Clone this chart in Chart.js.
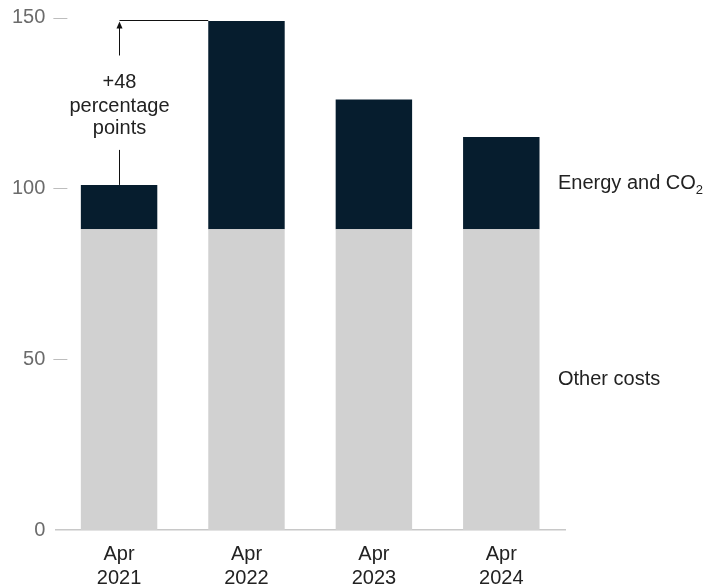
<!DOCTYPE html>
<html>
<head>
<meta charset="utf-8">
<script src="https://cdn.jsdelivr.net/npm/chart.js@4/dist/chart.umd.min.js"></script>
<style>
  html, body { margin: 0; padding: 0; background: #fff; }
  #wrap { width: 708px; height: 587px; }
</style>
</head>
<body>
<div id="wrap"><canvas id="chart"></canvas></div>
<script>
// 數據
const categories = [['Apr', '2021'], ['Apr', '2022'], ['Apr', '2023'], ['Apr', '2024']];
const otherCosts = [88, 88, 88, 88];
const energyCO2 = [13, 61, 38, 27];
const yTicks = [0, 50, 100, 150];
const seriesNames = ['Other costs', 'Energy and CO'];
const noteLines = ['+48', 'percentage', 'points'];

const NAVY = '#061d2e';
const GREY = '#d1d1d1';
const FONT = '"Liberation Sans", Arial, sans-serif';

// y 軸短刻度線
const tickMarks = {
    id: 'tickMarks',
    afterDraw(chart) {
        const ctx = chart.ctx;
        const y = chart.scales.y;
        const left = chart.chartArea.left;
        ctx.save();
        ctx.strokeStyle = '#bdbdbd';
        ctx.lineWidth = 1;
        yTicks.forEach(v => {
            if (v === 0) return;
            const py = Math.round(y.getPixelForValue(v)) + 0.5;
            ctx.beginPath();
            ctx.moveTo(left - 2, py);
            ctx.lineTo(left + 12, py);
            ctx.stroke();
        });
        ctx.restore();
    }
};

// 右側系列標籤
const seriesLabels = {
    id: 'seriesLabels',
    afterDraw(chart) {
        const ctx = chart.ctx;
        const x = chart.chartArea.right - 7;
        ctx.save();
        ctx.fillStyle = '#222';
        ctx.textBaseline = 'middle';
        ctx.textAlign = 'left';
        chart.data.datasets.forEach((ds, i) => {
            const bar = chart.getDatasetMeta(i).data[ds.data.length - 1];
            const mid = (bar.y + bar.base) / 2;
            ctx.font = '20px ' + FONT;
            ctx.fillText(seriesNames[i], x, mid);
            if (i === 1) {
                const w = ctx.measureText(seriesNames[i]).width;
                ctx.font = '13px ' + FONT;
                ctx.fillText('2', x + w, mid + 7);
            }
        });
        ctx.restore();
    }
};

// +48 註解箭頭
const changeNote = {
    id: 'changeNote',
    afterDraw(chart) {
        const ctx = chart.ctx;
        const meta = chart.getDatasetMeta(1);
        const b0 = meta.data[0];
        const b1 = meta.data[1];
        const x = Math.round(b0.x) + 0.5;
        const topY = Math.round(b1.y) - 0.5;
        const right = b1.x - b1.width / 2;
        ctx.save();
        ctx.strokeStyle = '#111';
        ctx.fillStyle = '#111';
        ctx.lineWidth = 1;
        ctx.beginPath();
        ctx.moveTo(right, topY);
        ctx.lineTo(x, topY);
        ctx.moveTo(x, b0.y);
        ctx.lineTo(x, b0.y - 35);
        ctx.moveTo(x, topY + 35);
        ctx.lineTo(x, topY + 6);
        ctx.stroke();
        ctx.beginPath();
        ctx.moveTo(x, topY + 1);
        ctx.lineTo(x - 3, topY + 8);
        ctx.lineTo(x + 3, topY + 8);
        ctx.closePath();
        ctx.fill();
        ctx.font = '20px ' + FONT;
        ctx.textAlign = 'center';
        ctx.textBaseline = 'middle';
        ctx.fillStyle = '#222';
        ctx.fillText(noteLines[0], x, topY + 62);
        ctx.fillText(noteLines[1], x, topY + 86);
        ctx.fillText(noteLines[2], x, topY + 108);
        ctx.restore();
    }
};

new Chart(document.getElementById('chart'), {
    type: 'bar',
    data: {
        labels: categories,
        datasets: [{
            label: seriesNames[0],
            data: otherCosts,
            backgroundColor: GREY,
            barPercentage: 0.6,
            categoryPercentage: 1
        }, {
            label: seriesNames[1],
            data: energyCO2,
            backgroundColor: NAVY,
            barPercentage: 0.6,
            categoryPercentage: 1
        }]
    },
    options: {
        responsive: true,
        maintainAspectRatio: false,
        animation: false,
        layout: { padding: { left: 2, right: 143, top: 0, bottom: -15 } },
        plugins: {
            legend: { display: false },
            tooltip: { enabled: false }
        },
        scales: {
            x: {
                stacked: true,
                grid: { display: false, drawTicks: false },
                border: { display: true, color: '#c8c8c8', width: 1.5 },
                ticks: {
                    color: '#222',
                    font: { family: FONT, size: 20, lineHeight: 1.2 },
                    padding: 12,
                    maxRotation: 0
                }
            },
            y: {
                stacked: true,
                min: 0,
                max: 150,
                afterBuildTicks(axis) {
                    axis.ticks = yTicks.map(v => ({ value: v }));
                },
                grid: { display: false, drawTicks: false },
                border: { display: false },
                ticks: {
                    color: '#6b6b6b',
                    font: { family: FONT, size: 20, lineHeight: 0.75 },
                    padding: 10
                }
            }
        }
    },
    plugins: [tickMarks, seriesLabels, changeNote]
});
</script>
</body>
</html>
